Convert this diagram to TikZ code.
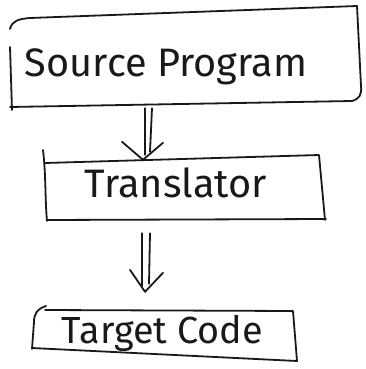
\documentclass[tikz,border=0pt]{standalone}
\usepackage{fontspec}
\setmainfont{Fira Sans}
\usetikzlibrary{calc}
\tikzset{
  hand/.style={line width=1.8pt, draw=black!90, line cap=round, line join=round},
  box/.style={draw=none, inner sep=0pt},
  txt/.style={anchor=base, inner sep=0pt, text=black!90}
}
\begin{document}
\begin{tikzpicture}[x=1pt,y=-1pt]
\useasboundingbox[fill=white] (0,0) rectangle (366,369);
% invisible box nodes
\node[box, minimum width=352pt, minimum height=101pt] (srcbox) at (186,57.5) {};
\node[box, minimum width=282pt, minimum height=65pt] (transbox) at (184,187.5) {};
\node[box, minimum width=265pt, minimum height=50pt] (tgtbox) at (164.5,335) {};
% texts
\node[txt] (src) at (166,77) {\resizebox{282pt}{!}{Source Program}};
\node[txt] (trans) at (176,197) {\resizebox{182pt}{!}{Translator}};
\node[txt] (tgt) at (162.5,343) {\resizebox{201pt}{!}{Target Code}};
% source box outline
\draw[hand] (10,47) -- (12,110);
\draw[hand] (10,107) -- (352,101) .. controls (359,99) and (362,95) .. (361,86) -- (357,6);
\draw[hand] (10,29) .. controls (12,21) and (18,19) .. (30,18) -- (357,6);
% translator box outline
\draw[hand] (43,150) .. controls (46,175) and (45,200) .. (47,221);
\draw[hand] (45,163) -- (319,155) -- (325,220);
\draw[hand] (47,220) -- (326,219);
% target box outline
\draw[hand] (46,306) .. controls (37,309) and (34,314) .. (34,322) -- (32,349);
\draw[hand] (45,310) -- (293,311) -- (297,361);
\draw[hand] (32,348) -- (297,361);
% arrow 1
\coordinate (a1s) at ($(srcbox.south)+(-38,0)$);
\coordinate (a1e) at ($(transbox.north)+(-41,5)$);
\draw[hand] ($(a1s)+(-3,0)$) -- ($(a1e)+(2,-5)$);
\draw[hand] ($(a1s)+(4,0)$) -- ($(a1e)+(7,-8)$);
\draw[hand] ($(a1e)+(-21,-18)$) -- (a1e) -- ($(a1e)+(20,-17)$);
% arrow 2
\coordinate (a2s) at ($(transbox.south)+(-38,13)$);
\coordinate (a2e) at ($(tgtbox.north)+(-19.5,-18)$);
\draw[hand] ($(a2s)+(-4,0)$) -- ($(a2e)+(-3,-6)$);
\draw[hand] ($(a2s)+(4,0)$) -- ($(a2e)+(4,-8)$);
\draw[hand] ($(a2e)+(-15,-22)$) -- (a2e) -- ($(a2e)+(18,-19)$);
\end{tikzpicture}
\end{document}
